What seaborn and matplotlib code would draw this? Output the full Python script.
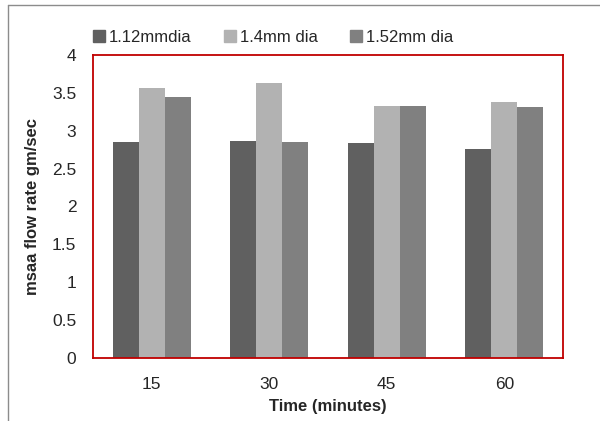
import matplotlib
matplotlib.use("Agg")
import matplotlib.pyplot as plt
import seaborn as sns
import pandas as pd
from matplotlib.lines import Line2D

times = ["15", "30", "45", "60"]
series_names = ["1.12mmdia", "1.4mm dia", "1.52mm dia"]
dia_112 = [2.85, 2.865, 2.84, 2.76]
dia_140 = [3.56, 3.63, 3.33, 3.38]
dia_152 = [3.44, 2.85, 3.33, 3.32]
yticks = [0, 0.5, 1, 1.5, 2, 2.5, 3, 3.5, 4]
ytick_labels = ["0", "0.5", "1", "1.5", "2", "2.5", "3", "3.5", "4"]
colors = ["#606060", "#b2b2b2", "#808080"]

rows = []
for name, vals in zip(series_names, [dia_112, dia_140, dia_152]):
    for t, v in zip(times, vals):
        rows.append({"Time": t, "Series": name, "Value": v})
df = pd.DataFrame(rows)

sns.set_style("white")
plt.rcParams["font.family"] = ["Liberation Sans", "DejaVu Sans"]

fig = plt.figure(figsize=(6.0, 4.21), dpi=100)
ax = fig.add_axes([93/600, 1 - 358/421, (563-93)/600, (358-55)/421])

sns.barplot(data=df, x="Time", y="Value", hue="Series", order=times,
            hue_order=series_names, palette=colors, width=0.66,
            saturation=1, ax=ax, legend=False, edgecolor="none")

ax.set_ylim(0, 4)
ax.set_xlim(-0.5, 3.5)
ax.set_yticks(yticks)
ax.set_yticklabels(ytick_labels, fontsize=12.5, color="#262626")
ax.tick_params(axis="y", length=0, pad=12)
ax.tick_params(axis="x", length=0, pad=14, labelsize=12.5, labelcolor="#262626")
for s in ax.spines.values():
    s.set_visible(True)
    s.set_color("#c00000")
    s.set_linewidth(1.3)

ax.set_xlabel("Time (minutes)", fontsize=12, fontweight="bold", labelpad=5)
ax.set_ylabel("msaa flow rate gm/sec", fontsize=12, fontweight="bold")
ax.yaxis.set_label_coords((40 - 93) / 470, 0.5)

handles = [Line2D([0], [0], marker="s", linestyle="none", markersize=8,
                  markerfacecolor=c, markeredgecolor=c) for c in colors]
fig.legend(handles, series_names, loc="center", bbox_to_anchor=(273/600, 1 - 37/421),
           ncol=3, frameon=False, fontsize=12, handletextpad=0.2, columnspacing=1.9,
           handlelength=0.8)

# outer chart frame lines
fig.add_artist(Line2D([8/600, 1], [1 - 5/421, 1 - 5/421], color="#8c8c8c", lw=1.0, transform=fig.transFigure))
fig.add_artist(Line2D([8/600, 8/600], [0, 1 - 5/421], color="#8c8c8c", lw=1.0, transform=fig.transFigure))

fig.savefig("out.png", dpi=100)
